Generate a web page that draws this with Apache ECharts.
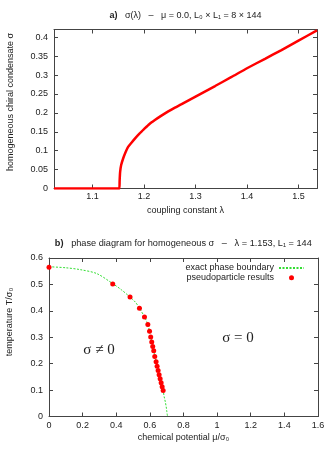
<!DOCTYPE html>
<html><head><meta charset="utf-8">
<script src="https://cdn.jsdelivr.net/npm/echarts@6/dist/echarts.min.js"></script>
<style>html,body{margin:0;padding:0;background:#fff}#c{width:335px;height:453px}</style>
</head><body><div id="c"></div>
<script>
// ---- panel a) sigma(lambda) ----
const lambdaVals = [1.025, 1.1, 1.152, 1.1525, 1.1535, 1.1555, 1.1595, 1.164, 1.169, 1.1755, 1.1826, 1.191, 1.2, 1.21, 1.221, 1.233, 1.247, 1.26, 1.273, 1.3, 1.338, 1.37, 1.4, 1.435, 1.467, 1.5, 1.536];
const sigmaVals  = [0, 0, 0, 0.02, 0.044, 0.062, 0.08, 0.096, 0.11, 0.121, 0.1325, 0.145, 0.157, 0.17, 0.181, 0.192, 0.204, 0.214, 0.223, 0.243, 0.271, 0.295, 0.318, 0.343, 0.366, 0.391, 0.418];
const topXTicks = [1.1, 1.2, 1.3, 1.4, 1.5];
const topYTicks = [0, 0.05, 0.1, 0.15, 0.2, 0.25, 0.3, 0.35, 0.4];

// ---- panel b) phase diagram ----
const muBoundary = [0, 0.1, 0.185, 0.284, 0.379, 0.43, 0.482, 0.515, 0.538, 0.568, 0.588, 0.605, 0.623, 0.643, 0.661, 0.679, 0.685, 0.692, 0.697, 0.701, 0.705];
const tBoundary  = [0.567, 0.563, 0.556, 0.541, 0.503, 0.48, 0.452, 0.432, 0.41, 0.377, 0.348, 0.301, 0.249, 0.19, 0.143, 0.098, 0.075, 0.055, 0.037, 0.018, 0];
const muPoints = [0, 0.379, 0.482, 0.538, 0.568, 0.588, 0.598, 0.605, 0.611, 0.617, 0.623, 0.629, 0.637, 0.643, 0.649, 0.655, 0.661, 0.667, 0.673, 0.679];
const tPoints  = [0.565, 0.502, 0.452, 0.41, 0.377, 0.348, 0.323, 0.301, 0.282, 0.265, 0.249, 0.227, 0.207, 0.19, 0.174, 0.158, 0.143, 0.128, 0.113, 0.098];
const botXTicks = [0, 0.2, 0.4, 0.6, 0.8, 1, 1.2, 1.4, 1.6];
const botYTicks = [0, 0.1, 0.2, 0.3, 0.4, 0.5, 0.6];

const SANS = '"Liberation Sans", "DejaVu Sans", Arial, sans-serif';
const SERIF = '"Liberation Serif", "DejaVu Serif", serif';
const TXT = '#222';
const AX = '#444';

function zip(a, b) { return a.map((v, i) => [v, b[i]]); }

function mkAxis(o) {
  const showLabel = o.label !== false;
  return {
    type: 'value', gridIndex: o.grid, position: o.pos, min: o.min, max: o.max,
    axisLine: { show: true, onZero: false, lineStyle: { color: AX, width: 1 } },
    axisTick: { show: true, inside: true, length: 4, customValues: o.ticks, lineStyle: { color: AX, width: 1 } },
    axisLabel: { show: showLabel, customValues: o.ticks, margin: o.margin || 5, color: TXT, fontSize: 9, fontFamily: SANS },
    splitLine: { show: false },
    name: o.name || '', nameLocation: 'middle', nameGap: o.nameGap || 15,
    nameTextStyle: { color: TXT, fontSize: 9, fontFamily: SANS }
  };
}

function txt(x, y, text, extra) {
  return Object.assign({
    type: 'text', x: x, y: y, silent: true,
    style: Object.assign({
      text: text, fill: TXT, fontSize: 9, fontFamily: SANS,
      align: 'center', verticalAlign: 'middle', textAlign: 'center', textVerticalAlign: 'middle'
    }, extra && extra.style ? extra.style : {})
  }, extra && extra.el ? extra.el : {});
}

const chart = echarts.init(document.getElementById('c'), null, { renderer: 'canvas' });
chart.setOption({
  animation: false,
  backgroundColor: '#fff',
  grid: [
    { left: 54, top: 29.5, width: 263, height: 159 },
    { left: 49, top: 258, width: 269, height: 158.5 }
  ],
  xAxis: [
    mkAxis({ grid: 0, pos: 'bottom', min: 1.025, max: 1.536, ticks: topXTicks, margin: 4, name: 'coupling constant λ', nameGap: 17.5 }),
    mkAxis({ grid: 0, pos: 'top', min: 1.025, max: 1.536, ticks: topXTicks, label: false }),
    mkAxis({ grid: 1, pos: 'bottom', min: 0, max: 1.6, ticks: botXTicks, margin: 5, name: 'chemical potential μ/σ₀', nameGap: 16.5 }),
    mkAxis({ grid: 1, pos: 'top', min: 0, max: 1.6, ticks: botXTicks, label: false })
  ],
  yAxis: [
    mkAxis({ grid: 0, pos: 'left', min: 0, max: 0.4205, ticks: topYTicks, margin: 6 }),
    mkAxis({ grid: 0, pos: 'right', min: 0, max: 0.4205, ticks: topYTicks, label: false }),
    mkAxis({ grid: 1, pos: 'left', min: 0, max: 0.6, ticks: botYTicks, margin: 6 }),
    mkAxis({ grid: 1, pos: 'right', min: 0, max: 0.6, ticks: botYTicks, label: false })
  ],
  legend: {
    data: [
      { name: 'exact phase boundary', itemStyle: { color: 'rgba(0,0,0,0)', borderWidth: 0, opacity: 0 } },
      { name: 'pseudoparticle results' }
    ],
    orient: 'vertical', align: 'right', right: 30, top: 263.5, padding: 0,
    itemWidth: 25, itemHeight: 5, itemGap: 0.7,
    textStyle: { color: TXT, fontSize: 9, fontFamily: SANS }
  },
  series: [
    {
      type: 'line', name: 'sigma', xAxisIndex: 0, yAxisIndex: 0,
      data: zip(lambdaVals, sigmaVals), symbol: 'none', smooth: 0.2, z: 5,
      lineStyle: { color: '#ff0000', width: 2.5 }
    },
    {
      type: 'line', name: 'exact phase boundary', xAxisIndex: 2, yAxisIndex: 2,
      data: zip(muBoundary, tBoundary), symbol: 'none', smooth: 0.3, z: 3,
      itemStyle: { color: '#33dd33' },
      lineStyle: { color: '#33dd33', width: 1, type: [2, 1.5] }
    },
    {
      type: 'scatter', name: 'pseudoparticle results', xAxisIndex: 2, yAxisIndex: 2,
      data: zip(muPoints, tPoints), symbol: 'circle', symbolSize: 5, z: 4,
      itemStyle: { color: '#ff0000', opacity: 1 }
    }
  ],
  graphic: [
    txt(185.5, 15.7, '{b|a)}   σ(λ)   –   μ = 0.0, L₀ × L₁ = 8 × 144', { style: { rich: { b: { fontWeight: 'bold', fontSize: 9, fontFamily: SANS, fill: TXT } } } }),
    txt(183.3, 243.3, '{b|b)}   phase diagram for homogeneous σ   –   λ = 1.153, L₁ = 144', { style: { fontSize: 9.2, rich: { b: { fontWeight: 'bold', fontSize: 9.2, fontFamily: SANS, fill: TXT } } } }),
    txt(11, 102, 'homogeneous chiral condensate σ', { el: { rotation: Math.PI / 2 } }),
    txt(10, 322, 'temperature T/σ₀', { el: { rotation: Math.PI / 2 } }),
    txt(99, 350, 'σ ≠ 0', { style: { fontSize: 15, fontFamily: SERIF, fill: '#222' } }),
    txt(238, 338.5, 'σ = 0', { style: { fontSize: 15, fontFamily: SERIF, fill: '#222' } })
  ]
});
</script>
</body></html>
